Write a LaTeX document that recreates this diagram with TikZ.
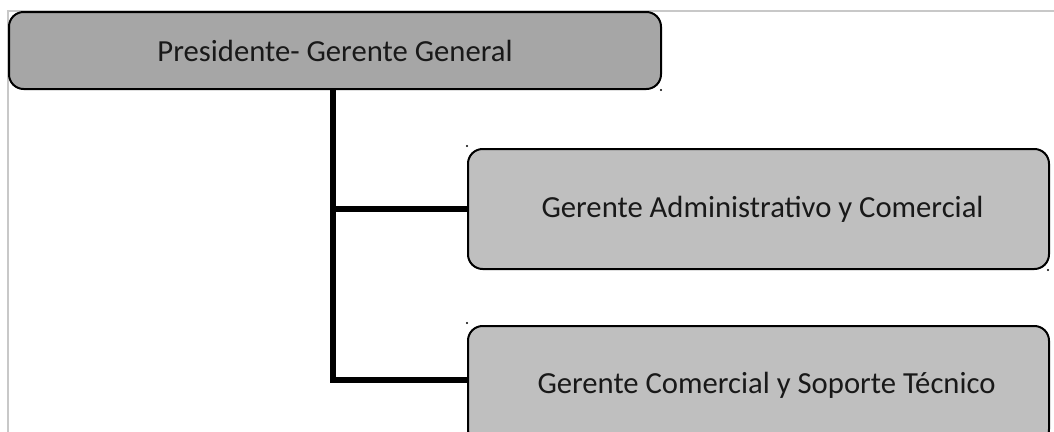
\documentclass[tikz,border=0pt]{standalone}
\usepackage{fontspec}
\setmainfont{Carlito}
\usetikzlibrary{
  calc,       % 坐标计算
  positioning % 节点相对定位
}
\definecolor{jefegris}{HTML}{A6A6A6}
\definecolor{cargogris}{HTML}{BFBFBF}
\definecolor{marcogris}{HTML}{C8C8C8}

\tikzset{
  cargo/.style={draw=black, line width=1.5pt, rounded corners=11pt,
    anchor=north west, font=\fontsize{23}{26}\selectfont, text=black!90},
  enlace/.style={line width=3.8pt}
}

\begin{document}
\begin{tikzpicture}[x=0.75pt, y=-0.75pt]
  \useasboundingbox (0,0) rectangle (1054,432);
  \clip (0,0) rectangle (1054,432);

  % =========== 页面边框 ===========
  \draw[marcogris, line width=1.2pt] (8,11) rectangle (1070,450);

  % =========== 上级：总经理 ===========
  \node[cargo, fill=jefegris, minimum width=652*0.75pt, minimum height=77*0.75pt]
    (presidente) at (8,11) {Presidente- Gerente General};

  % =========== 下级：两个部门 ===========
  \node[cargo, fill=cargogris, minimum width=581*0.75pt, minimum height=120*0.75pt]
    (admin) at (467,148) {\hspace*{6pt}Gerente Administrativo y Comercial};
  \node[cargo, fill=cargogris, minimum width=581*0.75pt, minimum height=118*0.75pt]
    (soporte) at (467,325) {\hspace*{12pt}Gerente Comercial y Soporte Técnico};

  % =========== 连线 ===========
  \coordinate (eje) at (333,0);          % 竖线所在的 x
  \coordinate (codo) at (333,380);       % 竖线下端拐角
  \draw[enlace] (presidente.south -| eje) -- ($(codo)+(0,2.5)$);
  \draw[enlace] (admin.west -| eje) -- (admin.west);
  \draw[enlace] ($(codo)-(2.5,0)$) -- (soporte.west |- codo);

  % 角上的小点
  \foreach \p in {(661,90),(467,146),(1048,270),(467,323)}
    \fill \p circle (1.1);
\end{tikzpicture}
\end{document}
